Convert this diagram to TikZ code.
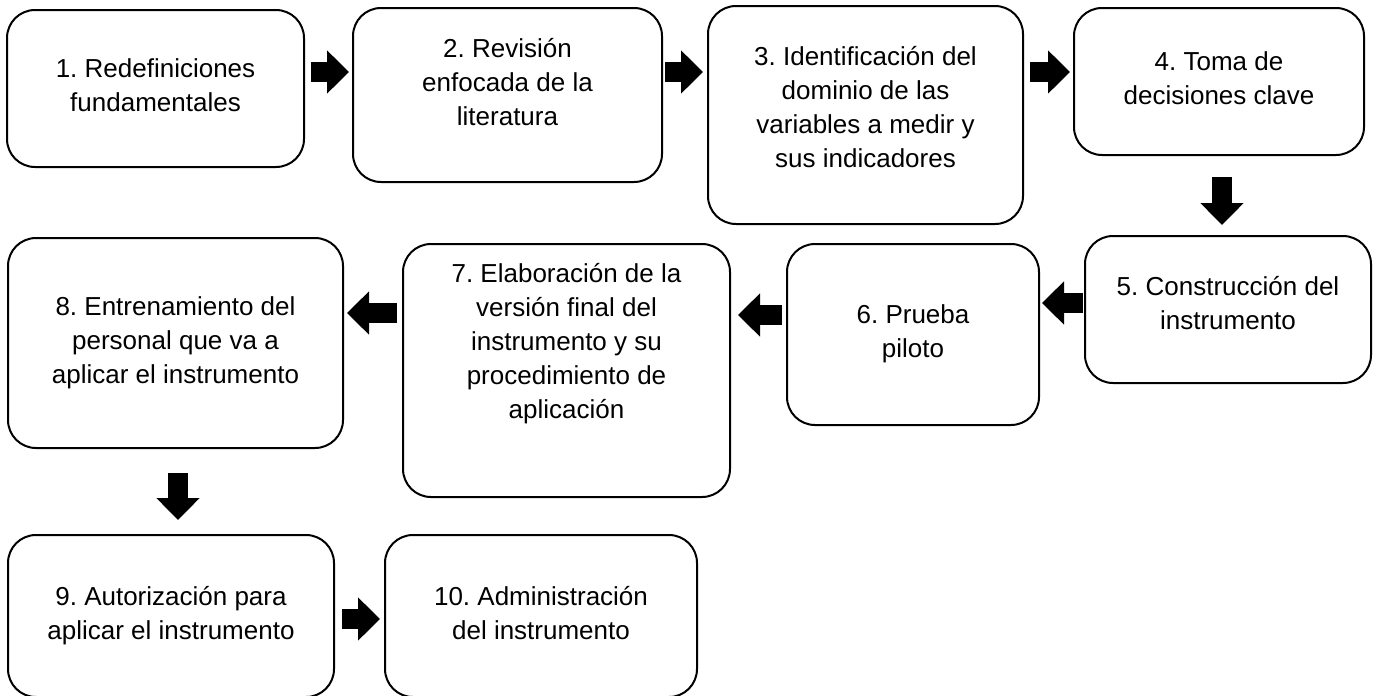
\documentclass[tikz,border=0pt]{standalone}
\usepackage{fontspec}
\setmainfont{Liberation Sans}
\usetikzlibrary{arrows.meta}

\tikzset{
  stepbox/.style = {draw = black, line width = 2pt, rounded corners = 28pt,
    align = center, inner sep = 0pt, text depth = 6pt,
    font = \fontsize{26}{34}\selectfont\frenchspacing},
  blockarrow/.style = {draw = black, line width = 20pt,
    -{Triangle[width = 42pt, length = 22pt]}}
}

\begin{document}
\begin{tikzpicture}[x = 1pt, y = -1pt]
    \useasboundingbox (0, 0) rectangle (1379, 696);

    \node [stepbox, minimum width = 297pt, minimum height = 157pt] (b1) at (155.5, 88.5)
      {1. Redefiniciones\\fundamentales};
    \node [stepbox, minimum width = 309pt, minimum height = 174pt, text depth = 26pt] (b2) at (507.5, 95)
      {2. Revisión\\enfocada de la\\literatura};
    \node [stepbox, minimum width = 315pt, minimum height = 218pt, text depth = 16pt] (b3) at (865.5, 115)
      {3. Identificación del\\dominio de las\\variables a medir y\\sus indicadores};
    \node [stepbox, minimum width = 290pt, minimum height = 147pt] (b4) at (1219, 81.5)
      {4. Toma de\\decisiones clave};
    \node [stepbox, minimum width = 286pt, minimum height = 147pt, text depth = 14pt] (b5) at (1228, 309.5)
      {5. Construcción del\\instrumento};
    \node [stepbox, minimum width = 252pt, minimum height = 181pt] (b6) at (913, 334.5)
      {6. Prueba\\piloto};
    \node [stepbox, minimum width = 327pt, minimum height = 253pt, text depth = 60pt] (b7) at (566.5, 370.5)
      {7. Elaboración de la\\versión final del\\instrumento y su\\procedimiento de\\aplicación};
    \node [stepbox, minimum width = 335pt, minimum height = 210pt] (b8) at (175.5, 343)
      {8. Entrenamiento del\\personal que va a\\aplicar el instrumento};
    \node [stepbox, minimum width = 326pt, minimum height = 162pt] (b9) at (171, 616)
      {9. Autorización para\\aplicar el instrumento};
    \node [stepbox, minimum width = 312pt, minimum height = 162pt] (b10) at (541, 616)
      {10. Administración\\del instrumento};

    \draw [blockarrow, shorten <= 6pt, shorten >= 3pt] (b1.east |- 0, 72) -- (b2.west |- 0, 72);
    \draw [blockarrow, shorten <= 2pt, shorten >= 4pt] (b2.east |- 0, 72) -- (b3.west |- 0, 72);
    \draw [blockarrow, shorten <= 6pt, shorten >= 3pt] (b3.east |- 0, 72) -- (b4.west |- 0, 72);
    \draw [blockarrow, shorten <= 21pt, shorten >= 10pt] (b4.south -| 1222, 0) -- (b5.north -| 1222, 0);
    \draw [blockarrow, shorten <= 1pt, shorten >= 2pt] (b5.west |- 0, 303) -- (b6.east |- 0, 303);
    \draw [blockarrow, shorten <= 4pt, shorten >= 7pt] (b6.west |- 0, 315) -- (b7.east |- 0, 315);
    \draw [blockarrow, shorten <= 5pt, shorten >= 3pt] (b7.west |- 0, 313) -- (b8.east |- 0, 313);
    \draw [blockarrow, shorten <= 24pt, shorten >= 14pt] (b8.south -| 178, 0) -- (b9.north -| 178, 0);
    \draw [blockarrow, shorten <= 7pt, shorten >= 4pt] (b9.east |- 0, 619) -- (b10.west |- 0, 619);
\end{tikzpicture}
\end{document}
